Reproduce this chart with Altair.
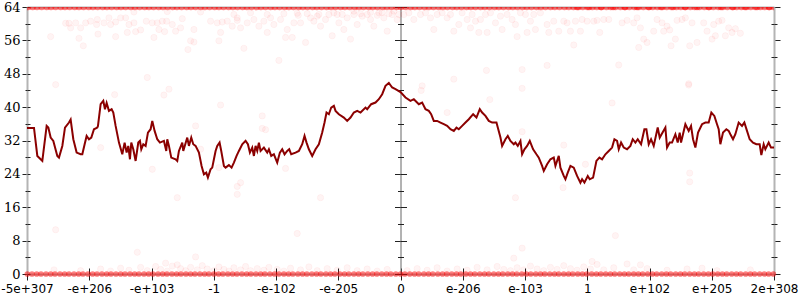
import altair as alt
import pandas as pd

# ---------------- data ----------------
X_MIN, X_MAX = -1121, 1121
x_tick_labels = ["-5e+307", "-e+206", "-e+103", "-1", "-e-102", "-e-205", "0",
                 "e-206", "e-103", "1", "e+102", "e+205", "2e+308"]
y_major = [0, 8, 16, 24, 32, 40, 48, 56, 64]
y_minor = [4, 12, 20, 28, 36, 44, 52, 60]

# moving average line (x position, value)
line_x = [-1121, -1100, -1090, -1080, -1075, -1062, -1057, -1050, -1042, -1030,
          -1025, -1015, -1007, -995, -990, -982, -972, -960, -955, -948,
          -942, -935, -928, -920, -910, -908, -900, -892, -887, -882,
          -875, -867, -862, -855, -845, -835, -828, -822, -817, -812,
          -808, -802, -795, -787, -782, -778, -772, -765, -758, -750,
          -745, -738, -730, -722, -710, -703, -700, -695, -688, -675,
          -670, -665, -655, -652, -640, -635, -628, -622, -615, -605,
          -597, -590, -583, -578, -570, -565, -560, -555, -550, -543,
          -538, -530, -525, -515, -507, -500, -492, -485, -475, -465,
          -458, -452, -445, -440, -435, -430, -425, -420, -410, -400,
          -395, -388, -380, -370, -362, -355, -348, -340, -334, -328,
          -315, -305, -295, -288, -282, -275, -265, -255, -245, -235,
          -228, -222, -215, -208, -200, -195, -185, -170, -160, -150,
          -140, -130, -120, -105, -100, -88, -75, -65, -55, -45,
          -35, -25, -15, 0,
          15, 30, 40, 55, 65, 75, 85, 92, 100, 110,
          120, 130, 140, 150, 160, 168, 175, 185, 195, 205,
          218, 228, 238, 245, 255, 265, 275, 288, 300, 305,
          315, 322, 330, 340, 345, 352, 360, 365, 372, 380,
          388, 398, 408, 415, 425, 430, 440, 450, 460, 465,
          475, 480, 490, 495, 502, 510, 520, 530, 540, 545,
          552, 562, 568, 578, 588, 597, 605, 615, 625, 635,
          642, 650, 655, 662, 670, 680, 690, 697, 705, 712,
          722, 732, 738, 745, 752, 760, 772, 778, 795, 800,
          808, 815, 825, 832, 838, 842, 855, 865, 872, 878,
          885, 893, 905, 915, 925, 933, 942, 950, 955, 960,
          968, 978, 985, 990, 998, 1005, 1015, 1025, 1032, 1040,
          1048, 1058, 1068, 1078, 1083, 1090, 1095, 1105, 1112, 1121]
line_y = [35.0, 35.0, 28.3, 27.5, 27.1, 35.5, 35.1, 32.7, 31.9, 28.3,
          27.9, 30.7, 35.1, 36.3, 37.0, 32.3, 29.1, 28.7, 28.7, 31.1,
          33.1, 32.3, 32.7, 34.7, 35.1, 35.5, 40.7, 41.5, 39.5, 41.0,
          39.1, 39.5, 38.7, 35.5, 31.5, 28.7, 31.5, 29.1, 30.7, 27.5,
          31.5, 29.9, 27.1, 31.5, 31.9, 29.9, 31.1, 30.7, 33.9, 34.7,
          36.7, 34.3, 32.3, 31.5, 31.9, 29.5, 32.3, 30.7, 27.9, 27.5,
          27.1, 29.5, 31.5, 29.5, 32.7, 30.7, 32.7, 31.1, 30.7, 29.1,
          25.9, 23.9, 24.3, 23.1, 25.1, 25.5, 27.5, 29.5, 30.7, 31.5,
          29.5, 25.9, 25.5, 26.1, 25.5, 26.7, 28.3, 29.5, 31.1, 31.9,
          31.1, 29.1, 30.3, 28.3, 30.7, 29.5, 31.5, 29.5, 30.3, 29.1,
          29.9, 28.3, 28.7, 26.7, 29.1, 29.9, 28.7, 29.5, 29.9, 28.7,
          29.1, 29.5, 31.1, 33.1, 31.5, 29.9, 28.3, 29.9, 31.1, 33.9,
          36.3, 38.7, 38.3, 39.9, 40.3, 39.1, 38.3, 37.5, 36.7, 37.5,
          38.7, 39.1, 38.7, 39.9, 39.5, 40.7, 41.1, 41.9, 43.1, 45.1,
          45.8, 44.7, 44.3, 43.6,
          42.3, 41.5, 41.9, 40.7, 41.1, 39.5, 39.1, 38.3, 36.7, 36.7,
          36.3, 35.9, 35.5, 34.7, 34.3, 35.1, 34.7, 35.5, 36.3, 37.1,
          38.3, 37.5, 39.5, 38.7, 37.9, 36.7, 36.3, 36.3, 32.7, 30.7,
          32.3, 33.1, 31.9, 31.1, 31.5, 30.7, 31.9, 28.7, 29.9, 30.7,
          31.9, 29.9, 28.7, 27.9, 25.9, 24.7, 26.3, 27.5, 27.9, 25.9,
          28.3, 25.5, 23.5, 22.7, 24.3, 25.9, 25.5, 23.5, 21.9, 22.7,
          21.9, 23.5, 22.7, 23.1, 27.1, 27.9, 27.5, 28.7, 29.5, 30.3,
          32.3, 31.9, 29.9, 31.5, 30.3, 29.9, 30.7, 32.3, 31.5, 32.3,
          31.1, 34.7, 34.7, 31.1, 32.3, 30.7, 35.1, 32.7, 35.1, 30.3,
          31.5, 31.5, 33.5, 31.5, 33.9, 31.5, 35.9, 34.3, 35.5, 32.3,
          30.3, 33.9, 35.9, 36.3, 36.3, 38.7, 37.9, 35.9, 34.7, 31.1,
          33.9, 34.7, 34.3, 33.5, 32.3, 33.5, 36.3, 35.5, 36.3, 34.3,
          32.3, 31.5, 31.1, 31.1, 28.5, 31.1, 29.9, 31.5, 30.3, 30.3]

# dense rows of samples at 64 and at 0 (x positions)
band_top_x = [-1118, -1104, -1091, -1077, -1062, -1049, -1035, -1020, -1007, -993,
              -978, -965, -951, -936, -923, -909, -894, -881, -867, -852,
              -839, -825, -810, -797, -783, -768, -755, -741, -726, -713,
              -699, -684, -671, -657, -642, -629, -615, -600, -587, -573,
              -558, -545, -531, -516, -503, -489, -474, -461, -447, -432,
              -419, -405, -390, -377, -363, -348, -335, -321, -306, -293,
              -279, -264, -251, -237, -222, -209, -195, -180, -167, -153,
              -138, -125, -111, -96, -83, -69, -54, -41, -27, -12,
              1, 15, 30, 43, 57, 72, 85, 99, 114, 127,
              141, 156, 169, 183, 198, 211, 225, 240, 253, 267,
              282, 295, 309, 324, 337, 351, 366, 379, 393, 408,
              421, 435, 450, 463, 477, 492, 505, 519, 534, 547,
              561, 576, 589, 603, 618, 631, 645, 660, 673, 687,
              702, 715, 729, 744, 757, 771, 786, 799, 813, 828,
              841, 855, 870, 883, 897, 912, 925, 939, 954, 967,
              981, 996, 1009, 1023, 1038, 1051, 1065, 1080, 1093, 1107, 1120,
              530, 566, 602, 638, 674, 710, 746, 782, 818, 854,
              890, 926, 962, 998, 1034, 1070, 1106]
band_bottom_x = [-1120, -1106, -1092, -1079, -1064, -1050, -1037, -1022, -1008, -995,
                 -980, -966, -953, -938, -924, -911, -896, -882, -869, -854,
                 -840, -827, -812, -798, -785, -770, -756, -743, -728, -714,
                 -701, -686, -672, -659, -644, -630, -617, -602, -588, -575,
                 -560, -546, -533, -518, -504, -491, -476, -462, -449, -434,
                 -420, -407, -392, -378, -365, -350, -336, -323, -308, -294,
                 -281, -266, -252, -239, -224, -210, -197, -182, -168, -155,
                 -140, -126, -113, -98, -84, -71, -56, -42, -29, -14,
                 0, 13, 28, 42, 55, 70, 84, 97, 112, 126,
                 139, 154, 168, 181, 196, 210, 223, 238, 252, 265,
                 280, 294, 307, 322, 336, 349, 364, 378, 391, 406,
                 420, 433, 448, 462, 475, 490, 504, 517, 532, 546,
                 559, 574, 588, 601, 616, 630, 643, 658, 672, 685,
                 700, 714, 727, 742, 756, 769, 784, 798, 811, 826,
                 840, 853, 868, 882, 895, 910, 924, 937, 952, 966,
                 979, 994, 1008, 1021, 1036, 1050, 1063, 1078, 1092, 1105, 1119]

# scattered samples (x position, value)
upper_points = [(-1050, 56.9), (-1035, 45.4), (-1005, 60.1), (-995, 60.1), (-990, 59.0),
                (-975, 60.2), (-965, 56.5), (-960, 59.0), (-952, 54.7), (-945, 60.2),
                (-930, 60.6), (-912, 59.8), (-910, 61.0), (-908, 57.5), (-890, 60.2),
                (-875, 61.4), (-870, 59.8), (-855, 60.4), (-855, 56.9), (-858, 43.0),
                (-840, 61.4), (-825, 61.4), (-820, 57.9), (-815, 59.8), (-800, 60.2),
                (-795, 58.1), (-780, 58.5), (-763, 60.6), (-760, 47.1), (-745, 60.2),
                (-740, 56.7), (-730, 60.2), (-725, 58.6), (-715, 60.6), (-710, 42.9),
                (-708, 58.1), (-702, 60.6), (-695, 44.3), (-685, 59.8), (-675, 58.2),
                (-660, 59.0), (-655, 61.2), (-638, 53.8), (-630, 55.9), (-620, 55.6),
                (-620, 58.6), (-570, 60.6), (-550, 60.2), (-545, 55.9), (-540, 57.9),
                (-535, 60.4), (-520, 60.6), (-505, 59.4), (-490, 60.8), (-490, 61.4),
                (-480, 59.0), (-470, 54.1), (-460, 60.2), (-440, 61.0), (-425, 59.4),
                (-410, 60.6), (-400, 57.9), (-390, 61.4), (-380, 59.8), (-365, 51.2),
                (-360, 61.0), (-345, 56.7), (-340, 58.6), (-325, 56.7), (-320, 60.2),
                (-307, 62.0), (-300, 60.2), (-285, 55.5), (-270, 61.4), (-260, 60.6),
                (-245, 62.2), (-240, 59.4), (-225, 61.0), (-215, 62.2), (-205, 57.1),
                (-190, 62.2), (-185, 60.2), (-170, 58.6), (-160, 61.4), (-150, 56.3),
                (-140, 62.2), (-130, 59.8), (-115, 61.8), (-100, 62.2), (-90, 61.0),
                (-80, 59.4), (-65, 62.6), (-50, 61.4), (-40, 58.2), (-25, 62.2), (-10, 61.0),
                (-800, 62.8), (-700, 62.9), (-600, 62.8), (-500, 62.2), (-450, 62.6),
                (-400, 62.2), (-350, 62.4), (-310, 62.5), (-280, 62.4), (-250, 61.8),
                (-200, 62.6), (-175, 62.2), (-140, 63.0), (-120, 62.4), (-90, 62.7),
                (-70, 62.0), (-55, 62.7), (-35, 62.4), (-20, 63.0), (-5, 62.2),
                (10, 62.2), (25, 62.6), (40, 61.0), (60, 62.2), (75, 62.6),
                (90, 61.4), (100, 58.6), (110, 62.2), (125, 62.6), (140, 61.4),
                (150, 62.2), (160, 58.2), (175, 59.8), (185, 62.6), (200, 61.0),
                (210, 59.0), (215, 62.2), (225, 60.6), (235, 57.9), (240, 61.0),
                (255, 62.2), (260, 57.9), (270, 62.6), (285, 60.2), (300, 61.8),
                (305, 58.6), (320, 62.2), (335, 61.0), (345, 59.8), (350, 56.9),
                (360, 62.6), (375, 62.2), (380, 57.9), (390, 60.6), (400, 62.2),
                (405, 58.6), (420, 62.6), (440, 59.8), (445, 57.9), (460, 60.6),
                (475, 58.2), (490, 60.6), (500, 60.2), (510, 58.2), (520, 54.9),
                (525, 60.6), (540, 58.2), (545, 61.0), (560, 60.6), (580, 60.6),
                (590, 60.8), (598, 57.9), (610, 61.0), (625, 61.0), (655, 50.1),
                (665, 60.2), (680, 60.8), (700, 60.2), (710, 61.4), (715, 54.3),
                (720, 59.0), (730, 56.3), (740, 55.5), (760, 58.2), (770, 61.0),
                (785, 60.2), (790, 58.2), (800, 59.4), (808, 58.5), (812, 54.7),
                (825, 56.3), (830, 60.8), (845, 61.0), (855, 61.4), (865, 45.6),
                (868, 54.7), (875, 60.2), (890, 55.5), (910, 60.2), (920, 58.2),
                (935, 56.3), (940, 59.8), (945, 57.1), (955, 60.6), (965, 60.8),
                (975, 57.1), (985, 59.0), (995, 57.9), (1005, 58.8), (1020, 57.7),
                (258, 48.8), (365, 49.0), (440, 50.0), (160, 46.7), (65, 45.1),
                (62, 44.0), (365, 44.5)]
middle_points = [(-900, 30.3), (-745, 25.1), (-600, 29.9), (-615, 35.5), (-540, 40.5),
                 (-415, 34.9), (-405, 34.6), (-480, 21.9), (-490, 21.0), (-490, 19.1),
                 (-670, 18.3), (-545, 25.5), (-415, 37.9), (-345, 25.3), (-240, 18.3),
                 (140, 38.7), (365, 34.1), (490, 30.9), (635, 41.0), (555, 26.3),
                 (488, 20.7), (345, 18.3), (868, 24.2), (868, 22.1), (865, 45.3),
                 (268, 41.8)]
lower_points = [(-1035, 10.6), (-790, 5.2), (-615, 4.1), (-705, 2.6), (-670, 2.2),
                (-310, 9.7), (-1040, 1.0), (-960, 0.8), (-900, 1.2), (-870, 0.7),
                (-840, 1.4), (-815, 0.9), (-780, 1.6), (-760, 0.8), (-735, 1.8),
                (-720, 1.1), (-700, 0.7), (-685, 1.9), (-660, 1.3), (-645, 0.8),
                (-630, 1.6), (-610, 1.0), (-595, 2.0), (-580, 1.2), (-560, 0.8),
                (-545, 1.7), (-530, 1.1), (-515, 0.7), (-500, 1.5), (-480, 1.0),
                (-465, 1.8), (-450, 0.8), (-430, 1.3), (-410, 0.9), (-395, 1.6),
                (-370, 1.1), (-350, 0.7), (-330, 1.4), (-300, 1.0), (-275, 1.7),
                (-250, 0.8), (-220, 1.3), (-190, 0.9), (-160, 1.5), (-130, 0.8),
                (-100, 1.2), (-70, 0.7), (-40, 1.1),
                (365, 6.2), (340, 3.8), (575, 3.0), (645, 9.2), (720, 2.2), (905, 1.4),
                (20, 0.8), (50, 1.3), (80, 0.9), (110, 1.5), (140, 0.7), (170, 1.2),
                (200, 0.9), (230, 1.6), (260, 1.0), (290, 1.8), (310, 1.1), (330, 0.8),
                (350, 1.5), (370, 1.0), (390, 1.9), (410, 1.2), (430, 0.8), (450, 1.6),
                (470, 1.1), (490, 2.0), (510, 1.3), (530, 0.9), (550, 1.7), (570, 1.2),
                (590, 2.3), (610, 1.0), (640, 1.5), (680, 2.4), (700, 1.0), (740, 1.3),
                (800, 0.9), (860, 1.2), (950, 0.8), (1050, 1.0)]

# ---------------- tables ----------------
line_df = pd.DataFrame({"x": line_x, "y": line_y})
top_df = pd.DataFrame({"x": band_top_x, "y": [64] * len(band_top_x)})
bottom_df = pd.DataFrame({"x": band_bottom_x, "y": [0] * len(band_bottom_x)})
scatter_df = pd.DataFrame(upper_points + middle_points + lower_points, columns=["x", "y"])

# ---------------- scales / axes ----------------
xscale = alt.Scale(domain=[X_MIN, X_MAX], nice=False, zero=False)
yscale = alt.Scale(domain=[0, 64], nice=False, zero=False)
step = (X_MAX - X_MIN) / 12
x_ticks = [X_MIN + i * step for i in range(13)]
label_expr = "[" + ",".join("'%s'" % s for s in x_tick_labels) + "][round((datum.value - (%d)) / %f)]" % (X_MIN, step)

GREY = "#b4b4b4"
TICK = "#222222"
PLOT_W = 747
half = PLOT_W / 2.0


def yax(orient, values, size, offset=0, labels=False, domain=False, dcolor=GREY, dwidth=2):
    kw = dict(orient=orient, values=values, tickSize=size, tickColor=TICK, tickWidth=1,
              labels=labels, domain=domain, grid=False, title=None, offset=offset)
    if domain:
        kw.update(domainColor=dcolor, domainWidth=dwidth)
    if labels:
        kw.update(labelFont="DejaVu Serif", labelFontSize=13, labelColor="#000000",
                  labelPadding=2, labelOverlap=False)
    return alt.Axis(**kw)


x_main = alt.Axis(orient="bottom", values=x_ticks, labelExpr=label_expr, tickSize=6,
                  tickColor=TICK, domainColor=GREY, domainWidth=2, labelFont="DejaVu Sans",
                  labelFontSize=12, labelColor="#000000", labelPadding=3, labelFlush=False,
                  labelOverlap=False, labelBound=False, grid=False, title=None)
x_inner = alt.Axis(orient="bottom", offset=-6, values=x_ticks, tickSize=6, tickColor=TICK,
                   labels=False, domain=False, grid=False, title=None)
x_top = alt.Axis(orient="top", ticks=False, labels=False, domainColor=GREY, domainWidth=2,
                 grid=False, title=None)


def axis_layer(y_axis, x_axis=None):
    return alt.Chart(line_df).mark_point(opacity=0).encode(
        x=alt.X("x:Q", scale=xscale, axis=x_axis),
        y=alt.Y("y:Q", scale=yscale, axis=y_axis),
    )


scatter = alt.Chart(scatter_df).mark_circle(
    color="#ff0000", size=40, fillOpacity=0.045, stroke="#ff0000", strokeOpacity=0.04, strokeWidth=1
).encode(x=alt.X("x:Q", scale=xscale, axis=None), y=alt.Y("y:Q", scale=yscale, axis=None))

top_band = alt.Chart(top_df).mark_circle(color="#ff0000", size=44, opacity=0.5, clip=True).encode(
    x=alt.X("x:Q", scale=xscale, axis=None), y=alt.Y("y:Q", scale=yscale, axis=None))
bottom_band = alt.Chart(bottom_df).mark_circle(color="#ff0000", size=32, opacity=0.5).encode(
    x=alt.X("x:Q", scale=xscale, axis=None), y=alt.Y("y:Q", scale=yscale, axis=None))

line = alt.Chart(line_df).mark_line(color="#8b0000", strokeWidth=2).encode(
    x=alt.X("x:Q", scale=xscale, axis=None), y=alt.Y("y:Q", scale=yscale, axis=None))

axes = [
    axis_layer(yax("left", y_major, 5, labels=True, domain=True), x_main),
    axis_layer(yax("left", y_minor, 2), x_inner),
    axis_layer(yax("left", y_major + y_minor, 3, offset=-3), x_top),
    axis_layer(yax("left", y_major, 6, offset=-half, domain=True, dcolor="#666666", dwidth=1)),
    axis_layer(yax("left", y_minor, 3, offset=-half)),
    axis_layer(yax("right", y_major, 6, offset=-half)),
    axis_layer(yax("right", y_minor, 3, offset=-half)),
    axis_layer(yax("right", y_major, 6, domain=True)),
    axis_layer(yax("right", y_minor, 3)),
    axis_layer(yax("right", y_minor, 3, offset=-3)),
]

chart = alt.layer(scatter, bottom_band, top_band, line, *axes).resolve_axis(
    x="independent", y="independent"
).properties(
    width=PLOT_W, height=267,
    padding={"left": 27, "top": 7, "right": 26, "bottom": 26},
    autosize=alt.AutoSizeParams(type="none"),
    background="#ffffff",
).configure_view(strokeWidth=0)

chart.save("out.html", embed_options={"renderer": "svg", "actions": False})
